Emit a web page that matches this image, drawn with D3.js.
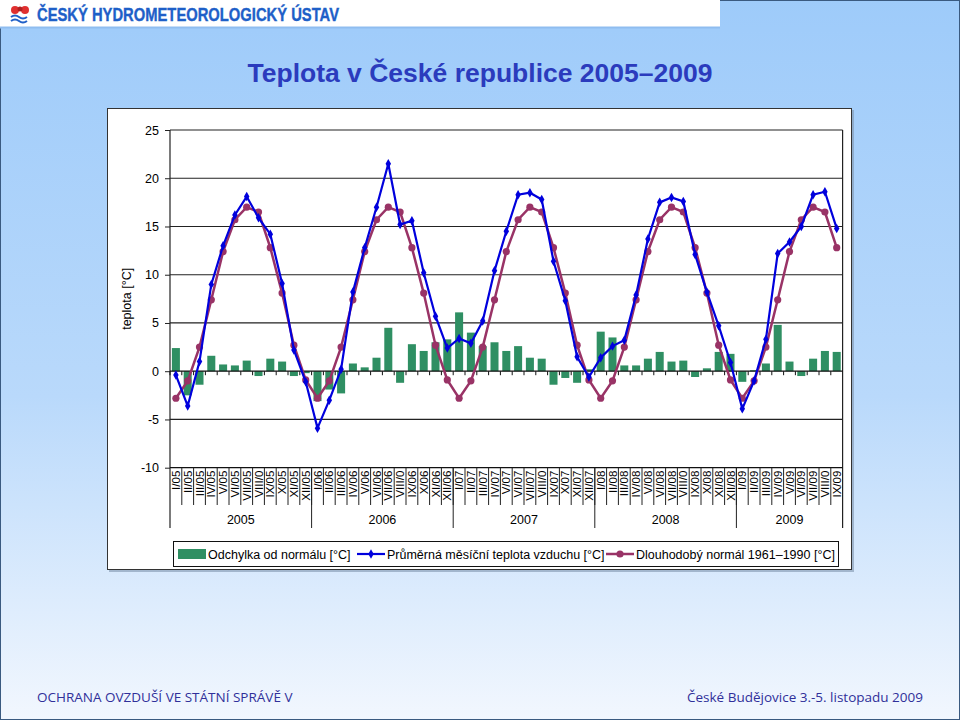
<!DOCTYPE html>
<html><head><meta charset="utf-8">
<script src="https://cdn.jsdelivr.net/npm/d3@7"></script>
<style>body{margin:0;padding:0;} svg{display:block;} text{font-family:Arial,"Liberation Sans",Helvetica,sans-serif;}</style>
</head><body>
<script>
const months = [
 "I/05","II/05","III/05","IV/05","V/05","VI/05","VII/05","VIII/0","IX/05","X/05","XI/05","XII/05",
 "I/06","II/06","III/06","IV/06","V/06","VI/06","VII/06","VIII/0","IX/06","X/06","XI/06","XII/06",
 "I/07","II/07","III/07","IV/07","V/07","VI/07","VII/07","VIII/0","IX/07","X/07","XI/07","XII/07",
 "I/08","II/08","III/08","IV/08","V/08","VI/08","VII/08","VIII/0","IX/08","X/08","XI/08","XII/08",
 "I/09","II/09","III/09","IV/09","V/09","VI/09","VII/09","VIII/0","IX/09"];
const years = ["2005","2006","2007","2008","2009"];
const yearMonths = [12,12,12,12,9];
const temperature = [
 -0.4,-3.6,1.0,9.0,13.0,16.2,18.1,15.9,14.2,9.1,2.2,-1.1,
 -5.9,-3.0,0.2,8.2,12.8,17.0,21.5,15.2,15.6,10.2,5.7,2.4,
 3.4,2.9,5.2,10.4,14.5,18.3,18.5,17.8,11.4,7.3,1.5,-0.6,
 1.4,2.6,3.2,7.9,13.7,17.5,18.0,17.6,12.1,8.2,4.7,0.9,
 -3.9,-1.0,3.3,12.2,13.4,15.0,18.3,18.6,14.8];
const normal = [
 -2.8,-1.0,2.5,7.4,12.4,15.7,17.0,16.5,12.8,8.1,2.7,-0.9,
 -2.8,-1.0,2.5,7.4,12.4,15.7,17.0,16.5,12.8,8.1,2.7,-0.9,
 -2.8,-1.0,2.5,7.4,12.4,15.7,17.0,16.5,12.8,8.1,2.7,-0.9,
 -2.8,-1.0,2.5,7.4,12.4,15.7,17.0,16.5,12.8,8.1,2.7,-0.9,
 -2.8,-1.0,2.5,7.4,12.4,15.7,17.0,16.5,12.8];
const deviation = [
 2.4,-2.5,-1.4,1.6,0.7,0.6,1.1,-0.5,1.3,1.0,-0.5,-0.2,
 -3.1,-1.9,-2.3,0.8,0.4,1.4,4.5,-1.2,2.8,2.1,3.0,3.3,
 6.1,4.0,2.6,3.0,2.1,2.6,1.4,1.3,-1.4,-0.7,-1.2,0.2,
 4.1,3.5,0.6,0.6,1.3,2.0,1.0,1.1,-0.6,0.3,2.0,1.8,
 -1.1,0.1,0.8,4.8,1.0,-0.5,1.3,2.1,2.0];
const yTicks = [-10,-5,0,5,10,15,20,25];

const W=960,H=720;
const svg = d3.select("body").append("svg").attr("width",W).attr("height",H);
const defs = svg.append("defs");
const bg = defs.append("linearGradient").attr("id","bg").attr("x1",0).attr("y1",0).attr("x2",0).attr("y2",1);
bg.append("stop").attr("offset","0%").attr("stop-color","#9ecbfa");
bg.append("stop").attr("offset","55%").attr("stop-color","#b9d9fb");
bg.append("stop").attr("offset","100%").attr("stop-color","#f2f7fe");
svg.append("rect").attr("width",W).attr("height",H).attr("fill","url(#bg)");
svg.append("rect").attr("x",0.5).attr("y",0.5).attr("width",W-1).attr("height",H-1).attr("fill","none").attr("stroke","#3a5a80").attr("stroke-width",1);

// header
svg.append("rect").attr("x",0).attr("y",0).attr("width",720).attr("height",27).attr("fill","#ffffff");
svg.append("line").attr("x1",0).attr("x2",720).attr("y1",27.5).attr("y2",27.5).attr("stroke","#8fbdf0").attr("stroke-width",2);
const logo = svg.append("g").attr("transform","translate(9,5)");
logo.append("circle").attr("cx",6).attr("cy",5).attr("r",4).attr("fill","#e03030");
logo.append("circle").attr("cx",16).attr("cy",5).attr("r",4).attr("fill","#e03030");
logo.append("circle").attr("cx",11).attr("cy",4).attr("r",2.5).attr("fill","#b02020");
logo.append("path").attr("d","M2,12 q4,-3 8,0 t8,0 M2,16 q4,-3 8,0 t8,0").attr("fill","none").attr("stroke","#2060c8").attr("stroke-width",2);
svg.append("text").attr("x",37).attr("y",21).style("font-family","'Liberation Sans Narrow','Arial Narrow',Arial").attr("font-weight","bold").attr("font-size",19)
  .attr("fill","#1e5fc8").attr("stroke","#1e5fc8").attr("stroke-width",0.4).attr("textLength",302).attr("lengthAdjust","spacingAndGlyphs").text("ČESKÝ HYDROMETEOROLOGICKÝ ÚSTAV");

// title
svg.append("text").attr("x",480).attr("y",82).attr("text-anchor","middle").attr("font-weight","bold").attr("font-size",26.5)
  .attr("fill","#2b3bbd").text("Teplota v České republice 2005–2009");

// chart box
svg.append("rect").attr("x",109).attr("y",110).attr("width",745).attr("height",462).attr("fill","#7f95ad").attr("opacity",0.6);
svg.append("rect").attr("x",107.5).attr("y",108.5).attr("width",744).attr("height",461).attr("fill","#ffffff").attr("stroke","#333").attr("stroke-width",1);

const pLeft=170,pRight=842.6,pTop=130,pBottom=467.7;
const idxs = d3.range(months.length);
const x = d3.scaleBand().domain(idxs).range([pLeft,pRight]).paddingInner(0.32).paddingOuter(0.16);
const xb = d3.scaleBand().domain(idxs).range([pLeft,pRight]);
const y = d3.scaleLinear().domain([-10,25]).range([pBottom,pTop]);

// gridlines
svg.append("g").selectAll("line").data(yTicks.filter(t=>t!==-10 && t!==0)).join("line")
  .attr("x1",pLeft).attr("x2",pRight).attr("y1",d=>y(d)).attr("y2",d=>y(d)).attr("stroke","#222").attr("stroke-width",1.2);
// right border
svg.append("line").attr("x1",pRight).attr("x2",pRight).attr("y1",pTop).attr("y2",528).attr("stroke","#222").attr("stroke-width",1.2);

// y axis
const yAxis = svg.append("g").attr("transform",`translate(${pLeft},0)`).call(d3.axisLeft(y).tickValues(yTicks).tickFormat(d=>String(d)).tickSize(5).tickPadding(6));
yAxis.select(".domain").remove();
yAxis.selectAll("line").attr("stroke","#222");
yAxis.selectAll("text").attr("font-size",12.5).attr("fill","#000");
yAxis.attr("font-family",null);
svg.append("line").attr("x1",pLeft).attr("x2",pLeft).attr("y1",pTop).attr("y2",528).attr("stroke","#222").attr("stroke-width",1.2);
svg.append("text").attr("transform",`translate(131,${(pTop+pBottom)/2}) rotate(-90)`).attr("text-anchor","middle")
  .attr("font-size",12.5).text("teplota [°C]");

// bars
svg.append("g").selectAll("rect").data(deviation).join("rect")
  .attr("x",(d,i)=>x(i)).attr("width",x.bandwidth())
  .attr("y",d=>y(Math.max(0,d))).attr("height",d=>Math.abs(y(d)-y(0)))
  .attr("fill","#2f8f63");

// zero axis with ticks
const zAxis = svg.append("g").attr("transform",`translate(0,${y(0)})`);
zAxis.append("line").attr("x1",pLeft).attr("x2",pRight).attr("stroke","#111").attr("stroke-width",1.2);
zAxis.selectAll("line.t").data(idxs).join("line").attr("class","t")
  .attr("x1",d=>xb(d)).attr("x2",d=>xb(d)).attr("y1",0).attr("y2",4).attr("stroke","#111");

// bottom category axis
svg.append("line").attr("x1",pLeft).attr("x2",pRight).attr("y1",pBottom).attr("y2",pBottom).attr("stroke","#111").attr("stroke-width",1.2);
const cat = svg.append("g");
cat.selectAll("line").data(idxs.slice(1)).join("line")
  .attr("x1",d=>xb(d)).attr("x2",d=>xb(d)).attr("y1",pBottom).attr("y2",505).attr("stroke","#222");
cat.selectAll("text").data(idxs).join("text")
  .attr("transform",d=>`translate(${xb(d)+xb.bandwidth()/2+4},${pBottom+3}) rotate(-90)`)
  .attr("text-anchor","end").attr("font-size",11.5).text(d=>months[d]);
// year separators and labels
let idx=0;
const yg = svg.append("g");
years.forEach((yr,k)=>{
  const s = idx, e = idx+yearMonths[k];
  const x0 = xb(s);
  const x1 = e<months.length ? xb(e) : pRight;
  if(k>0) yg.append("line").attr("x1",x0).attr("x2",x0).attr("y1",pBottom).attr("y2",528).attr("stroke","#222");
  yg.append("text").attr("x",(x0+x1)/2).attr("y",524).attr("text-anchor","middle").attr("font-size",12.5).text(yr);
  idx = e;
});

// lines
const cx = (d,i)=>xb(i)+xb.bandwidth()/2;
svg.append("path").datum(normal).attr("fill","none").attr("stroke","#993366").attr("stroke-width",2.5)
  .attr("d",d3.line().x(cx).y(d=>y(d)));
svg.append("g").selectAll("circle").data(normal).join("circle")
  .attr("cx",cx).attr("cy",d=>y(d)).attr("r",3.6).attr("fill","#993366");
svg.append("path").datum(temperature).attr("fill","none").attr("stroke","#0000dd").attr("stroke-width",2.2)
  .attr("d",d3.line().x(cx).y(d=>y(d)));
svg.append("g").selectAll("path").data(temperature).join("path")
  .attr("transform",(d,i)=>`translate(${cx(d,i)},${y(d)})`)
  .attr("d",d3.symbol(d3.symbolDiamond,26)).attr("fill","#0000dd");

// legend
const lg = svg.append("g");
lg.append("rect").attr("x",173.5).attr("y",541.5).attr("width",665).attr("height",25).attr("fill","#fff").attr("stroke","#111");
const ly=554;
lg.append("rect").attr("x",178).attr("y",ly-5).attr("width",28).attr("height",10).attr("fill","#2f8f63");
lg.append("text").attr("x",208).attr("y",ly+4.5).attr("font-size",12.5).text("Odchylka od normálu  [°C]");
lg.append("line").attr("x1",357).attr("x2",385).attr("y1",ly).attr("y2",ly).attr("stroke","#0000dd").attr("stroke-width",2.2);
lg.append("path").attr("transform",`translate(371,${ly})`).attr("d",d3.symbol(d3.symbolDiamond,26)).attr("fill","#0000dd");
lg.append("text").attr("x",387).attr("y",ly+4.5).attr("font-size",12.5).text("Průměrná měsíční teplota vzduchu [°C]");
lg.append("line").attr("x1",606).attr("x2",634).attr("y1",ly).attr("y2",ly).attr("stroke","#993366").attr("stroke-width",2.5);
lg.append("circle").attr("cx",620).attr("cy",ly).attr("r",3.6).attr("fill","#993366");
lg.append("text").attr("x",636).attr("y",ly+4.5).attr("font-size",12.5).text("Dlouhodobý normál 1961–1990 [°C]");

// footer
svg.append("text").attr("x",37).attr("y",702).style("font-family","'Open Sans','Noto Sans',sans-serif").attr("font-size",13.5).attr("fill","#30309a")
  .text("OCHRANA OVZDUŠÍ VE STÁTNÍ SPRÁVĚ V");
svg.append("text").attr("x",923).attr("y",702).attr("text-anchor","end").style("font-family","'Open Sans','Noto Sans',sans-serif").attr("font-size",13.5).attr("fill","#30309a")
  .text("České Budějovice 3.-5. listopadu 2009");
</script>
</body></html>
